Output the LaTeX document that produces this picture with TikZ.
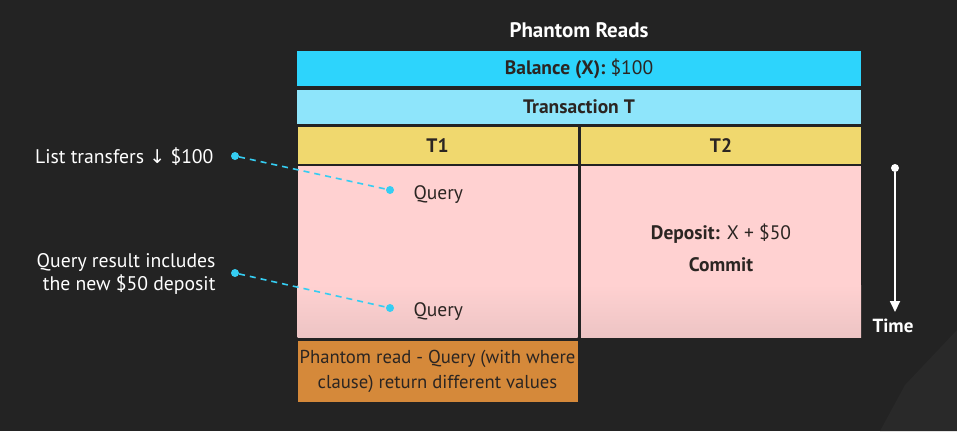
\documentclass[tikz,border=0pt]{standalone}
\usepackage{fontspec}
\setmainfont{PT Sans}
\newfontfamily\arrowfont{DejaVu Sans}
\usetikzlibrary{arrows.meta}
\definecolor{bgdark}{HTML}{232323}
\definecolor{bglight}{HTML}{292929}
\definecolor{balcyan}{HTML}{2DD4FC}
\definecolor{transcyan}{HTML}{8EE5FB}
\definecolor{headyellow}{HTML}{F0D86E}
\definecolor{bodypink}{HTML}{FFD1D1}
\definecolor{bodypinklow}{HTML}{EDC4C4}
\definecolor{noteorange}{HTML}{D5893A}
\definecolor{inkdark}{HTML}{2B2522}
\definecolor{linkcyan}{HTML}{35CDF2}

\begin{document}
\begin{tikzpicture}[x=1pt,y=-1pt,>=Triangle,
    cell/.style={inner sep=0pt,text=inkdark,font=\fontsize{19.5}{22}\selectfont},
    wide/.style={cell,minimum width=564pt,minimum height=34pt},
    half/.style={cell,minimum width=280pt},
    body/.style={half,minimum height=171pt,fill=bodypink},
    label/.style={text=white,font=\fontsize{19.7}{23}\selectfont,align=right,anchor=east},
    step text/.style={text=inkdark,font=\fontsize{19.5}{22}\selectfont},
    dot/.style={circle,fill=linkcyan,inner sep=0pt,minimum size=8pt},
    link/.style={linkcyan,line width=1.6pt,dash pattern=on 6pt off 5pt},
  ]
    %%%%%%%%%%%%%%%%%%%%%%%%%%%%%%%%%%%%%%%%%% background
    \fill[bgdark] (0,0) rectangle (957,431);
    \fill[bglight] (880,431) -- (905,385) -- (957,330) -- (957,431) -- cycle;
    \useasboundingbox (0,0) rectangle (957,431);
    %%%%%%%%%%%%%%%%%%%%%%%%%%%%%%%%%%%%%%%%%% table
    \node[text=white,font=\fontsize{21}{24}\selectfont\bfseries] (title) at (579,30) {Phantom Reads};
    \node[wide,fill=balcyan,minimum height=35pt] (bal) at (579,68.5) {\textbf{Balance (X):} \$100};
    \node[wide,fill=transcyan] (trans) at (579,107) {\textbf{Transaction T}};
    \foreach \n/\x/\t in {t1/437.5/T1,t2/721/T2}
    {
        \node[half,fill=headyellow,minimum height=37pt] (\n h) at (\x,145.5) {\textbf{\t}};
        \node[body] (\n b) at (\x,251.5) {};
        \shade[top color=bodypink,bottom color=bodypinklow] (\x-140,285) rectangle (\x+140,337);
    }
    \node[half,fill=noteorange,minimum height=61pt,align=center,font=\fontsize{18.7}{25}\selectfont] (note) at (437.5,371.5)
        {Phantom read - Query (with where\\clause) return different values};
    %%%%%%%%%%%%%%%%%%%%%%%%%%%%%%%%%%%%%%%%%% steps
    \node[step text,anchor=west] (q1) at (410,194.5) {Query};
    \node[step text,anchor=west] (q2) at (410,311.5) {Query};
    \node[step text] (dep) at (721,234) {\textbf{Deposit:} X + \$50};
    \node[step text] (com) at (721,265) {\textbf{Commit}};
    %%%%%%%%%%%%%%%%%%%%%%%%%%%%%%%%%%%%%%%%%% notes on the left
    \node[label] (l1) at (217,157) {List transfers {\arrowfont\fontsize{19}{22}\selectfont↓} \$100};
    \node[label] (l2) at (219,274) {Query result includes\\the new \$50 deposit};
    \foreach \a/\b/\ya/\yb in {s1/e1/156/190,s2/e2/273/308}
    {
        \node[dot] (\a) at (235,\ya) {};
        \node[dot] (\b) at (390,\yb) {};
        \draw[link] (\a) -- (\b);
    }
    %%%%%%%%%%%%%%%%%%%%%%%%%%%%%%%%%%%%%%%%%% time
    \node[circle,fill=white,inner sep=0pt,minimum size=8pt] (tstart) at (895,168) {};
    \node[text=white,font=\fontsize{19}{22}\selectfont\bfseries] (time) at (893,326) {Time};
    \coordinate (tend) at (895,312);
    \draw[white,line width=1.8pt,-{Triangle[length=11pt,width=10pt]}] (tstart) -- (tend);
\end{tikzpicture}
\end{document}
